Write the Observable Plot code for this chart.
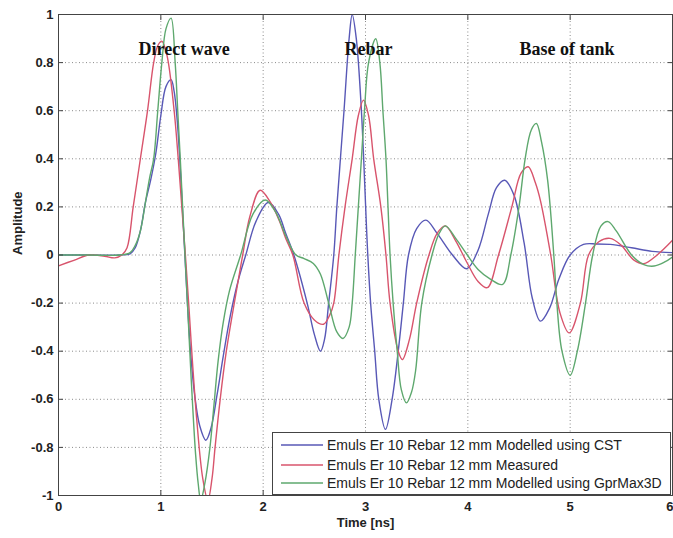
<!DOCTYPE html>
<html><head><meta charset="utf-8">
<script src="https://cdn.jsdelivr.net/npm/d3@7"></script>
<script src="https://cdn.jsdelivr.net/npm/@observablehq/plot@0.6"></script>
<style>
body{margin:0;background:#fff;font-family:"Liberation Sans",Arial,sans-serif}
#wrap{position:relative;width:673px;height:538px}
#legend{position:absolute;left:272px;top:432px;width:399px;height:63px;border:1px solid #444;background:#fff;box-sizing:border-box}
.row{position:absolute;left:7px;height:18px;display:flex;align-items:center;font-size:14px;color:#222;white-space:nowrap}
.row svg{margin-right:4px}
</style></head><body><div id="wrap"></div>
<script>
const seriesNames = [
  "Emuls Er 10 Rebar 12 mm Modelled using CST",
  "Emuls Er 10 Rebar 12 mm Measured",
  "Emuls Er 10 Rebar 12 mm Modelled using GprMax3D"
];
const seriesColors = ["#5858b6", "#d8546c", "#5ea86e"];

const cst = [[0,0],[0.3,0],[0.6,0],[0.7,0.005],[0.75,0.03],[0.8,0.1],[0.85,0.22],[0.9,0.31],[0.95,0.42],[1.0,0.58],[1.05,0.7],[1.1,0.729],[1.13,0.68],[1.16,0.56],[1.185,0.4],[1.21,0.2],[1.235,0],[1.26,-0.2],[1.29,-0.4],[1.33,-0.58],[1.38,-0.71],[1.44,-0.77],[1.49,-0.72],[1.55,-0.58],[1.61,-0.42],[1.68,-0.25],[1.76,-0.1],[1.83,0],[1.93,0.14],[2.05,0.218],[2.15,0.17],[2.22,0.09],[2.3,0],[2.43,-0.2],[2.5,-0.33],[2.56,-0.4],[2.6,-0.35],[2.64,-0.2],[2.69,0],[2.72,0.2],[2.79,0.6],[2.84,0.9],[2.87,1.0],[2.91,0.9],[2.96,0.6],[3.02,0.02],[3.05,-0.2],[3.09,-0.4],[3.13,-0.6],[3.195,-0.725],[3.26,-0.6],[3.32,-0.4],[3.37,-0.2],[3.42,0],[3.5,0.11],[3.59,0.145],[3.7,0.09],[3.85,0],[3.99,-0.057],[4.1,0.02],[4.2,0.17],[4.28,0.28],[4.36,0.311],[4.45,0.25],[4.55,0.05],[4.63,-0.18],[4.71,-0.275],[4.8,-0.22],[4.89,-0.1],[5.0,0],[5.13,0.044],[5.26,0.046],[5.39,0.044],[5.6,0.03],[5.8,0.015],[6.0,0.01]];

const measured = [[0,-0.045],[0.15,-0.022],[0.3,0],[0.45,-0.005],[0.55,-0.012],[0.62,0],[0.67,0.03],[0.73,0.2],[0.8,0.4],[0.87,0.6],[0.93,0.8],[0.97,0.87],[1.01,0.889],[1.06,0.83],[1.13,0.6],[1.17,0.4],[1.205,0.2],[1.24,0],[1.275,-0.22],[1.31,-0.45],[1.35,-0.68],[1.41,-0.93],[1.46,-1.02],[1.5,-0.93],[1.53,-0.8],[1.58,-0.6],[1.64,-0.4],[1.73,-0.17],[1.8,0],[1.87,0.16],[1.97,0.269],[2.07,0.22],[2.16,0.14],[2.22,0.07],[2.29,0],[2.4,-0.2],[2.5,-0.27],[2.59,-0.288],[2.65,-0.25],[2.69,-0.2],[2.74,0],[2.8,0.2],[2.87,0.4],[2.93,0.58],[2.98,0.644],[3.03,0.58],[3.08,0.4],[3.15,0.2],[3.2,0],[3.24,-0.2],[3.32,-0.4],[3.36,-0.435],[3.43,-0.35],[3.5,-0.2],[3.62,0],[3.7,0.09],[3.78,0.121],[3.88,0.06],[3.99,-0.03],[4.1,-0.11],[4.19,-0.136],[4.3,0],[4.43,0.2],[4.52,0.34],[4.59,0.367],[4.66,0.3],[4.71,0.225],[4.81,0],[4.9,-0.24],[4.99,-0.324],[5.1,-0.2],[5.18,0],[5.28,0.055],[5.39,0.069],[5.5,0.04],[5.62,-0.02],[5.72,-0.036],[5.85,0],[6,0.061]];

const gprmax = [[0,0],[0.3,0],[0.6,0],[0.7,0.01],[0.75,0.04],[0.8,0.1],[0.85,0.22],[0.89,0.32],[0.93,0.4],[0.97,0.6],[1.01,0.8],[1.05,0.94],[1.1,0.985],[1.14,0.8],[1.165,0.6],[1.19,0.4],[1.213,0.2],[1.236,0],[1.26,-0.2],[1.283,-0.4],[1.31,-0.62],[1.34,-0.83],[1.365,-0.95],[1.39,-1.02],[1.43,-0.95],[1.48,-0.8],[1.52,-0.62],[1.56,-0.44],[1.61,-0.28],[1.67,-0.15],[1.78,0],[1.9,0.17],[2.02,0.229],[2.12,0.18],[2.22,0.08],[2.32,0],[2.4,-0.015],[2.49,-0.035],[2.56,-0.08],[2.64,-0.2],[2.72,-0.32],[2.78,-0.347],[2.84,-0.3],[2.87,-0.2],[2.9,0],[2.93,0.2],[2.96,0.4],[2.99,0.6],[3.03,0.8],[3.1,0.899],[3.14,0.8],[3.17,0.6],[3.2,0.4],[3.22,0.2],[3.24,0],[3.27,-0.2],[3.31,-0.4],[3.35,-0.56],[3.4,-0.615],[3.45,-0.57],[3.49,-0.48],[3.55,-0.2],[3.65,0],[3.72,0.09],[3.78,0.121],[3.88,0.07],[3.99,0.003],[4.1,-0.06],[4.22,-0.1],[4.34,-0.122],[4.42,0],[4.5,0.2],[4.56,0.4],[4.62,0.52],[4.67,0.547],[4.72,0.47],[4.78,0.31],[4.84,0],[4.87,-0.2],[4.92,-0.4],[5,-0.5],[5.07,-0.4],[5.15,-0.2],[5.22,0],[5.3,0.12],[5.37,0.139],[5.45,0.1],[5.6,0],[5.72,-0.04],[5.82,-0.046],[5.92,-0.03],[6,-0.008]];

const xTicks = [0, 1, 2, 3, 4, 5, 6];
const yTicks = [-1, -0.8, -0.6, -0.4, -0.2, 0, 0.2, 0.4, 0.6, 0.8, 1];
const annotations = [
  {label: "Direct wave", t: 1.227, a: 0.855},
  {label: "Rebar", t: 3.03, a: 0.855},
  {label: "Base of tank", t: 4.97, a: 0.855}
];
const xLabel = "Time [ns]";
const yLabel = "Amplitude";

const table = [cst, measured, gprmax].flatMap((s, i) =>
  s.map(([t, a]) => ({series: seriesNames[i], t, a})));

const lastX = xTicks[xTicks.length - 1];
const tickText = {anchor: "bottom", tickSize: 0, tickPadding: 6, fontSize: 13, fontWeight: "bold", tickFormat: d => String(d), label: null, stroke: "none"};

const chart = Plot.plot({
  width: 673, height: 538,
  marginLeft: 58, marginRight: 1, marginTop: 14, marginBottom: 43,
  x: {domain: [0, 6]},
  y: {domain: [-1, 1]},
  color: {domain: seriesNames, range: seriesColors},
  style: {fontFamily: "'Liberation Sans', Arial, sans-serif", background: "white", color: "#222"},
  marks: [
    Plot.gridX(xTicks, {stroke: "#8a8a8a", strokeOpacity: 1, strokeDasharray: "1,2.5"}),
    Plot.gridY(yTicks, {stroke: "#8a8a8a", strokeOpacity: 1, strokeDasharray: "1,2.5"}),
    Plot.line(table, {x: "t", y: "a", z: "series", stroke: "series", curve: "catmull-rom", strokeWidth: 1.4, clip: true}),
    Plot.axisX(xTicks, {anchor: "bottom", tickSize: -5, fill: "none", stroke: "#444", label: null}),
    Plot.axisX(xTicks, {anchor: "top", tickSize: -5, fill: "none", stroke: "#444", label: null}),
    Plot.axisY(yTicks, {anchor: "left", tickSize: -5, fill: "none", stroke: "#444", label: null}),
    Plot.axisY(yTicks, {anchor: "right", tickSize: -5, fill: "none", stroke: "#444", label: null}),
    Plot.axisX(xTicks.filter(d => d !== lastX), tickText),
    Plot.axisX([lastX], {...tickText, textAnchor: "end", dx: 1}),
    Plot.axisY(yTicks, {anchor: "left", tickSize: 0, tickPadding: 5, fontSize: 13, fontWeight: "bold", tickFormat: d => String(d), label: null, stroke: "none"}),
    Plot.frame({stroke: "#444"}),
    Plot.text([xLabel], {frameAnchor: "bottom", dy: 31, fontSize: 13, fontWeight: "bold", fill: "#222"}),
    Plot.text([yLabel], {frameAnchor: "left", dx: -41, rotate: -90, fontSize: 13, fontWeight: "bold", fill: "#222"}),
    Plot.text(annotations, {x: "t", y: "a", text: "label", fontFamily: "'Liberation Serif', 'Times New Roman', serif", fontWeight: "bold", fontSize: 18, fill: "#111"})
  ]
});
const wrap = document.getElementById("wrap");
wrap.appendChild(chart);

const legend = d3.select(wrap).append("div").attr("id", "legend");
const rowTops = [3, 23, 41];
seriesNames.forEach((name, i) => {
  const row = legend.append("div").attr("class", "row").style("top", rowTops[i] + "px");
  const svg = row.append("svg").attr("width", 43).attr("height", 18);
  svg.append("line").attr("x1", 1).attr("x2", 43).attr("y1", 9).attr("y2", 9)
    .attr("stroke", seriesColors[i]).attr("stroke-width", 1.6);
  row.append("span").text(name);
});
</script>
</body></html>
